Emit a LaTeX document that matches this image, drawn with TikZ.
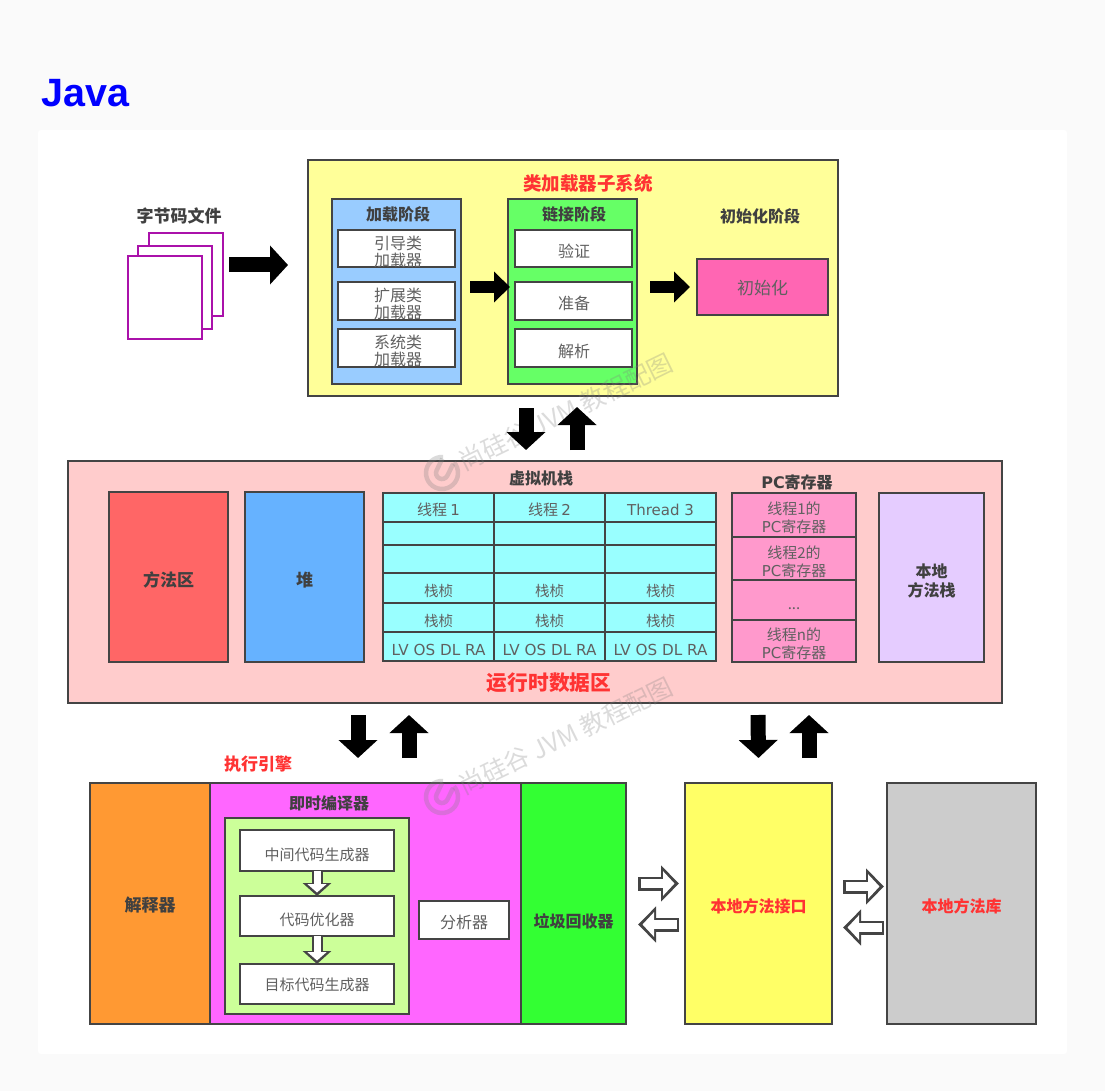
\documentclass[tikz,border=0pt]{standalone}
\usepackage{fontspec}
\setmainfont{Noto Sans CJK SC}
\newfontfamily\dejavu{DejaVu Sans}
\newfontfamily\titlefont{Liberation Sans}
\usetikzlibrary{calc,positioning,arrows.meta}
\definecolor{pagebg}{HTML}{FAFAFA}
\definecolor{frame}{HTML}{444444}
\definecolor{bodygrey}{HTML}{606060}
\definecolor{headgrey}{HTML}{404040}
\definecolor{redhead}{HTML}{FF3333}
\definecolor{pagepurple}{HTML}{AA11AA}
\definecolor{loadyellow}{HTML}{FFFF99}
\definecolor{loadblue}{HTML}{99CCFF}
\definecolor{linkgreen}{HTML}{66FF66}
\definecolor{initpink}{HTML}{FF66B3}
\definecolor{runpink}{HTML}{FFCCCC}
\definecolor{methodred}{HTML}{FF6666}
\definecolor{heapblue}{HTML}{66B2FF}
\definecolor{stackcyan}{HTML}{99FFFF}
\definecolor{pcpink}{HTML}{FF99CC}
\definecolor{nativeviolet}{HTML}{E5CCFF}
\definecolor{interporange}{HTML}{FF9933}
\definecolor{jitmagenta}{HTML}{FF66FF}
\definecolor{jitlime}{HTML}{CCFF99}
\definecolor{gcgreen}{HTML}{33FF33}
\definecolor{ifyellow}{HTML}{FFFF66}
\definecolor{libgrey}{HTML}{CCCCCC}

\begin{document}
\begin{tikzpicture}[x=1pt,y=-1pt]

\tikzset{boxnode/.style={draw=frame,line width=2.4pt,inner sep=0pt,outer sep=0pt,anchor=north west,align=center,text=bodygrey},
pagenode/.style={draw=pagepurple,fill=white,line width=2.2pt,inner sep=0pt,outer sep=0pt,anchor=north west,minimum width=74pt,minimum height=83pt},
bodytext/.style={font=\fontsize{16pt}{17pt}\selectfont,text=bodygrey,align=center,inner sep=0pt},
headtext/.style={font=\fontsize{16pt}{17pt}\selectfont\bfseries,text=headgrey,align=center,inner sep=0pt},
redtext/.style={font=\fontsize{18.5pt}{20pt}\selectfont\bfseries,text=redhead,inner sep=0pt},
blockarrow/.style={draw=black,line width=15pt,-{Triangle[length=18pt,width=38pt]}},
midarrow/.style={draw=black,line width=12pt,-{Triangle[length=16pt,width=30pt]}},
hollowarrow/.style={draw=frame,line width=14pt,-{Triangle[length=18pt,width=35pt]},
  postaction={draw=white,line width=9pt,shorten >=4.5pt,shorten <=2.5pt,-{Triangle[length=11.5pt,width=24pt]}}},
smallhollow/.style={draw=frame,line width=11pt,-{Triangle[length=13pt,width=28pt]},
  postaction={draw=white,line width=7pt,shorten >=3.5pt,shorten <=0pt,-{Triangle[length=8.5pt,width=19pt]}}},
markfont/.style={font=\fontsize{25pt}{27pt}\selectfont,text=gray,text opacity=.28,rotate=26,inner sep=0pt}}

% Page and card
\fill[pagebg] (0,0) rectangle (1105,1091);
\useasboundingbox (0,0) rectangle (1105,1091);
\fill[white,rounded corners=3pt] (38,130) rectangle (1067,1054);
\node (javaTitle) [anchor=base west,inner sep=0pt,text=blue,font=\fontsize{39.5pt}{44pt}\selectfont\titlefont\bfseries] at (41,107) {Java};

% Byte code files
\node (fileLabel) [headtext,font=\fontsize{17pt}{18pt}\selectfont\bfseries] at (179,216) {字节码文件};
\node (pageBack) [pagenode] at (149,233) {};
\node (pageMid) [pagenode] at (138,246) {};
\node (pageFront) [pagenode] at (128,256) {};

% Class loader subsystem
\node (loadSys) [boxnode,fill=loadyellow,minimum width=530pt,minimum height=236pt] at (308,160) {};
\node (loadSysLabel) [redtext] at (588,183) {类加载器子系统};
\node (loadPhase) [boxnode,fill=loadblue,minimum width=129pt,minimum height=185pt] at (332,199) {};
\node (loadPhaseLabel) [headtext] at (398,214) {加载阶段};
\node (linkPhase) [boxnode,fill=linkgreen,minimum width=129pt,minimum height=185pt] at (508,199) {};
\node (linkPhaseLabel) [headtext] at (574,214) {链接阶段};
\foreach \nm/\x/\y/\h in {boot/338/230/37,ext/338/282/38,sys/338/329/38,verify/515/230/37,prepare/515/282/38,resolve/515/329/38}
  \node (\nm) [boxnode,fill=white,minimum width=117pt,minimum height=\h pt] at (\x,\y) {};
\node (bootText) [bodytext] at (398,251.5) {引导类\\加载器};
\node (extText) [bodytext] at (398,304) {扩展类\\加载器};
\node (sysText) [bodytext] at (398,351) {系统类\\加载器};
\node (verifyText) [bodytext] at (574,251) {验证};
\node (prepareText) [bodytext] at (574,303) {准备};
\node (resolveText) [bodytext] at (574,351) {解析};
\node (initLabel) [headtext] at (760,216) {初始化阶段};
\node (initBox) [boxnode,fill=initpink,minimum width=131pt,minimum height=56pt,font=\fontsize{17pt}{18pt}\selectfont] at (697,259) {\raisebox{-1pt}[\height][\depth]{初始化}};

% Runtime data area
\node (runData) [boxnode,fill=runpink,minimum width=934pt,minimum height=242pt] at (68,461) {};
\node (runDataLabel) [redtext,font=\fontsize{20.7pt}{22pt}\selectfont\bfseries] at (549,683) {运行时数据区};
\node (methodArea) [boxnode,fill=methodred,minimum width=119pt,minimum height=170pt,text=headgrey,font=\fontsize{17pt}{18pt}\selectfont\bfseries] at (109,492) {\raisebox{-3pt}[\height][\depth]{方法区}};
\node (heapArea) [boxnode,fill=heapblue,minimum width=119pt,minimum height=170pt,text=headgrey,font=\fontsize{17pt}{18pt}\selectfont\bfseries] at (245,492) {\raisebox{-3pt}[\height][\depth]{堆}};
\node (stackLabel) [headtext] at (541,478) {虚拟机栈};

% Stack table
\foreach \c/\x in {1/383,2/494,3/605}
  \foreach \r/\y/\h/\t in {1/493/29/{},2/522/23/{},3/545/28/{},4/573/30/栈桢,5/603/29/栈桢,6/632/29/{\dejavu\fontsize{15.2pt}{16pt}\selectfont LV OS DL RA}}
    \node (cell\c\r) [boxnode,fill=stackcyan,minimum width=111pt,minimum height=\h pt,font=\fontsize{14.5pt}{15pt}\selectfont] at (\x,\y) {\raisebox{-3pt}[\height][\depth]{\t}};
\node (threadOne) [bodytext,font=\fontsize{15pt}{15pt}\selectfont] at ($(cell11)+(0,2.5)$) {线程 {\dejavu 1}};
\node (threadTwo) [bodytext,font=\fontsize{15pt}{15pt}\selectfont] at ($(cell21)+(0,2.5)$) {线程 {\dejavu 2}};
\node (threadThree) [bodytext,font=\fontsize{15pt}{15pt}\selectfont\dejavu] at ($(cell31)+(0,2.5)$) {Thread 3};

% PC registers
\node (pcLabel) [headtext] at (797,482) {{\dejavu PC}寄存器};
\foreach \r/\y/\h/\t in {1/493/44/{线程1的\\{\dejavu PC}寄存器},2/537/43/{线程2的\\{\dejavu PC}寄存器},3/580/40/{\raisebox{-6pt}[\height][\depth]{{...}}},4/620/42/{线程n的\\{\dejavu PC}寄存器}} {
  \node (pc\r) [boxnode,fill=pcpink,minimum width=124pt,minimum height=\h pt] at (732,\y) {};
  \node (pcText\r) [bodytext,font=\fontsize{15pt}{18pt}\selectfont] at ($(pc\r)+(0,3)$) {\t};
}
\node (nativeStack) [boxnode,fill=nativeviolet,minimum width=105pt,minimum height=169pt] at (879,493) {};
\node (nativeStackText) [headtext,font=\fontsize{16pt}{19pt}\selectfont\bfseries] at ($(nativeStack)+(0,3)$) {本地\\方法栈};

% Execution engine
\node (engineLabel) [redtext,font=\fontsize{17pt}{18pt}\selectfont\bfseries] at (258,764) {执行引擎};
\node (interp) [boxnode,fill=interporange,minimum width=120pt,minimum height=241pt,text=headgrey,font=\fontsize{17pt}{18pt}\selectfont\bfseries] at (90,783) {\raisebox{-2pt}[\height][\depth]{解释器}};
\node (jitBox) [boxnode,fill=jitmagenta,minimum width=311pt,minimum height=241pt] at (210,783) {};
\node (jitLabel) [headtext] at (329,803) {即时编译器};
\node (jitInner) [boxnode,fill=jitlime,minimum width=184pt,minimum height=196pt] at (225,818) {};
\node (irGen) [boxnode,fill=white,minimum width=154pt,minimum height=41pt,font=\fontsize{15pt}{16pt}\selectfont] at (240,830) {\raisebox{-4pt}[\height][\depth]{中间代码生成器}};
\node (codeOpt) [boxnode,fill=white,minimum width=154pt,minimum height=40pt,font=\fontsize{15pt}{16pt}\selectfont] at (240,896) {\raisebox{-4pt}[\height][\depth]{代码优化器}};
\node (targetGen) [boxnode,fill=white,minimum width=154pt,minimum height=40pt,font=\fontsize{15pt}{16pt}\selectfont] at (240,964) {\raisebox{-1pt}[\height][\depth]{目标代码生成器}};
\node (profiler) [boxnode,fill=white,minimum width=90pt,minimum height=38pt,font=\fontsize{16pt}{17pt}\selectfont] at (419,901) {\raisebox{-2pt}[\height][\depth]{分析器}};
\node (gcBox) [boxnode,fill=gcgreen,minimum width=105pt,minimum height=241pt,text=headgrey,font=\fontsize{16pt}{17pt}\selectfont\bfseries] at (521,783) {\raisebox{-18pt}[\height][\depth]{垃圾回收器}};

% Native side
\node (nativeIf) [boxnode,fill=ifyellow,minimum width=147pt,minimum height=241pt,text=redhead,font=\fontsize{16pt}{17pt}\selectfont\bfseries] at (685,783) {\raisebox{-3pt}[\height][\depth]{本地方法接口}};
\node (nativeLib) [boxnode,fill=libgrey,minimum width=149pt,minimum height=241pt,text=redhead,font=\fontsize{16pt}{17pt}\selectfont\bfseries] at (887,783) {\raisebox{-3pt}[\height][\depth]{本地方法库}};

% Watermarks
\foreach \n/\dy in {1/0,2/324} {
  \node (mark\n) [markfont] at (566,412+\dy) {尚硅谷 JVM 教程配图};
  \begin{scope}[shift={(442,473+\dy)},rotate=-26,gray,opacity=.28,line width=4.5pt]
    \draw (-68:16) arc[start angle=-68,end angle=248,radius=16];
    \draw (-6,-13) -- (-6,0) arc[start angle=180,end angle=0,radius=6] -- (6,-13);
  \end{scope}
}

% Arrows
\draw[blockarrow] ($(pageBack.east)+(6,-9.5)$) -- ($(loadSys.west)+(-20,-13)$);
\draw[midarrow] ($(loadPhase.east)+(9,-4.5)$) -- ($(linkPhase.west)+(2,-4.5)$);
\draw[midarrow] ($(linkPhase.east)+(13,-4.5)$) -- ($(initBox.west)+(-7,0)$);
\draw[blockarrow] ($(loadSys.south)+(-47,12)$) -- ($(runData.north)+(-9,-11)$);
\draw[blockarrow] ($(runData.north)+(42,-11)$) -- ($(loadSys.south)+(4,11)$);
\draw[blockarrow] ($(runData.south)+(-177,12)$) -- ($(jitBox.north)+(-7.5,-25)$);
\draw[blockarrow] ($(jitBox.north)+(43.5,-25)$) -- ($(runData.south)+(-126,12)$);
\draw[blockarrow] ($(runData.south)+(223,12)$) -- ($(nativeIf.north)+(0,-25)$);
\draw[blockarrow] ($(nativeIf.north)+(50.5,-25)$) -- ($(runData.south)+(274,12)$);
\draw[smallhollow] (irGen.south) -- (codeOpt.north);
\draw[smallhollow] (codeOpt.south) -- (targetGen.north);
\draw[hollowarrow] ($(gcBox.east)+(12,-20)$) -- ($(nativeIf.west)+(-6,-20)$);
\draw[hollowarrow] ($(nativeIf.west)+(-6,21)$) -- ($(gcBox.east)+(12,21)$);
\draw[hollowarrow] ($(nativeIf.east)+(11,-17)$) -- ($(nativeLib.west)+(-3,-17)$);
\draw[hollowarrow] ($(nativeLib.west)+(-3,24)$) -- ($(nativeIf.east)+(11,24)$);

\end{tikzpicture}
\end{document}
